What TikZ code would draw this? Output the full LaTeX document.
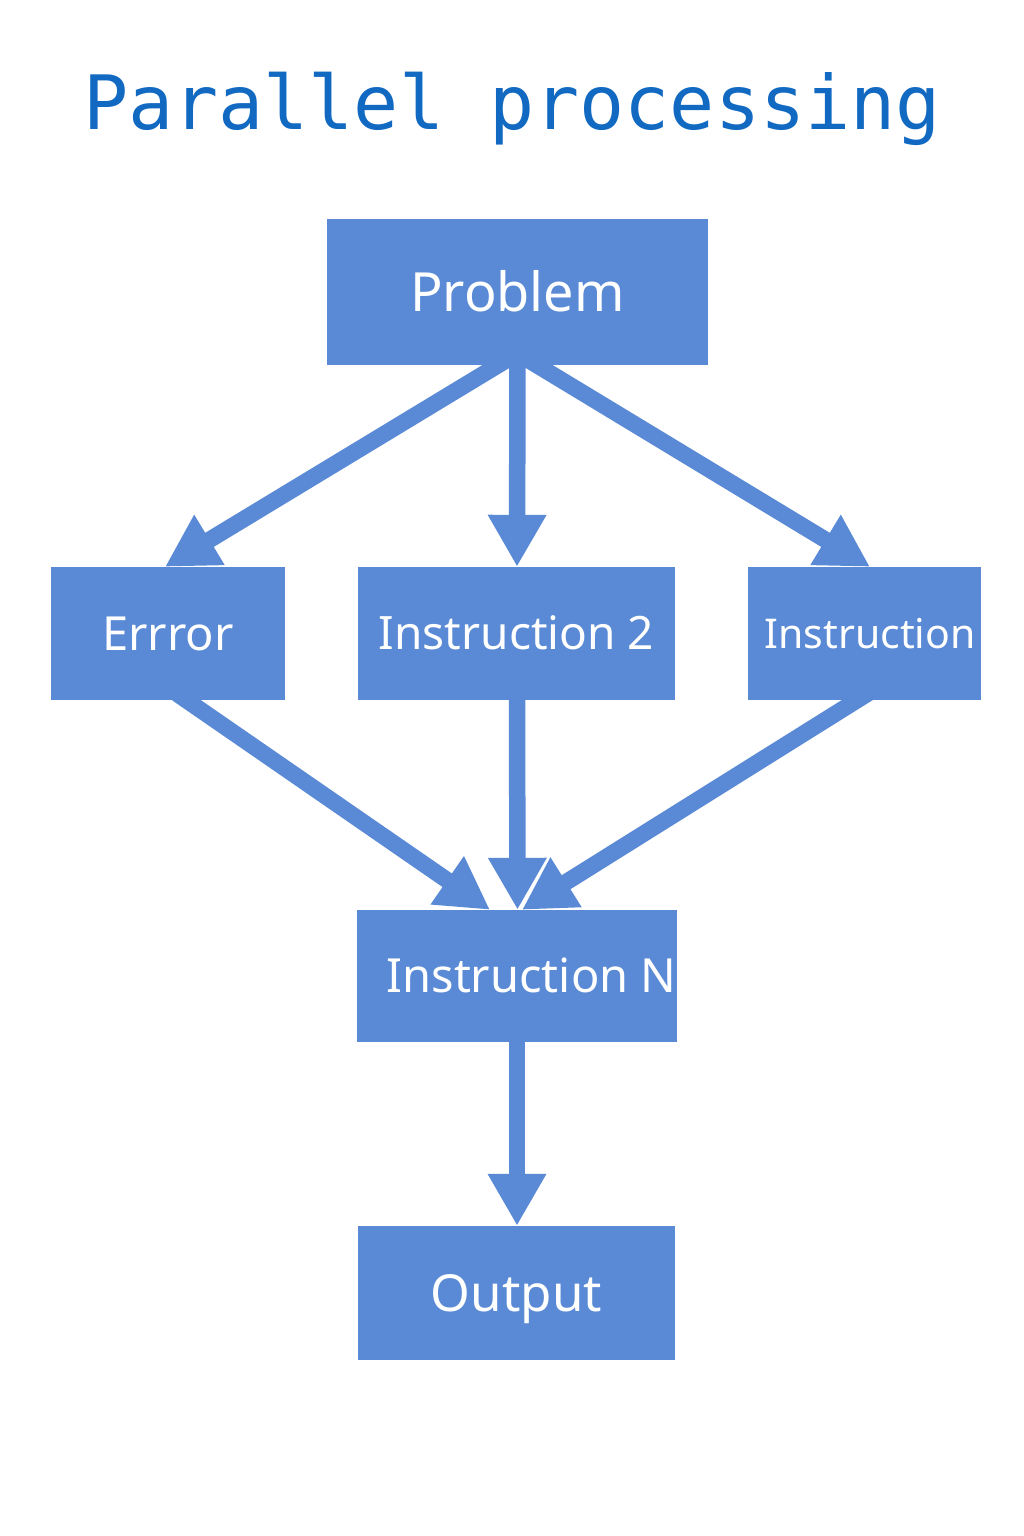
\documentclass[tikz,border=0pt]{standalone}
\usepackage{fontspec}
\setmainfont{Noto Sans}
\newfontfamily\titlefont{DejaVu Sans Mono}
\usetikzlibrary{arrows.meta,backgrounds,calc}
\definecolor{boxblue}{HTML}{5A8AD5}
\definecolor{titleblue}{HTML}{1269C1}
\tikzset{
  flowbox/.style={fill=boxblue, draw=none, inner sep=0pt, text=white,
    text depth=0pt, align=center},
  flowarrow/.style={draw=boxblue, line width=16.5pt,
    -{Triangle[length=52pt,width=55pt]}, fill=boxblue}
}
\begin{document}
\begin{tikzpicture}[x=1pt,y=-1pt]
\useasboundingbox (0,0) rectangle (1024,1536);
\node[text=titleblue, inner sep=0pt, text height=54.7pt, text depth=0pt,
  font=\titlefont\fontsize{75}{80}\selectfont] (title) at (512,102.5) {Parallel processing};

\node[flowbox, minimum width=381pt, minimum height=146pt, text height=38.6pt,
  font=\fontsize{54}{60}\selectfont] (prob) at (517.5,292) {Problem};
\node[flowbox, minimum width=234pt, minimum height=133pt, text height=33.6pt,
  font=\fontsize{47}{52}\selectfont] (err) at (168,633.5) {Errror};
\node[flowbox, minimum width=317pt, minimum height=133pt, text height=32.8pt,
  font=\fontsize{46}{52}\selectfont] (ins2) at (516.5,633.5) {Instruction 2};
\node[flowbox, minimum width=233pt, minimum height=133pt, text height=29.3pt,
  font=\fontsize{41}{46}\selectfont] (insr) at (864.5,633.5) {\hspace*{11pt}Instruction};
\node[flowbox, minimum width=317pt, minimum height=132pt, text height=33.6pt,
  font=\fontsize{47}{52}\selectfont] (insn) at (516.5,976) {\hspace*{30pt}Instruction N};
\node[flowbox, minimum width=317pt, minimum height=134pt, text height=36.4pt,
  font=\fontsize{51}{56}\selectfont] (out) at (516.5,1293) {Output};

\begin{pgfonlayer}{background}
\draw[flowarrow] ($(prob.south)+(-3,-10)$) -- ($(err.north)+(-3,0)$);
\draw[flowarrow] ($(prob.south)+(0,-10)$) -- ($(ins2.north)+(0.5,0)$);
\draw[flowarrow] ($(prob.south)+(3,-10)$) -- ($(insr.north)+(5.5,0)$);
\draw[flowarrow] ($(err.south)+(4,-10)$) -- ($(insn.north)+(-26.5,0)$);
\draw[flowarrow] ($(ins2.south)+(0.5,-10)$) -- ($(insn.north)+(1,0)$);
\draw[flowarrow] ($(insr.south)+(8.5,-10)$) -- ($(insn.north)+(5.5,0)$);
\draw[flowarrow] ($(insn.south)+(0.5,-10)$) -- ($(out.north)+(0.5,0)$);
\end{pgfonlayer}
\end{tikzpicture}
\end{document}
